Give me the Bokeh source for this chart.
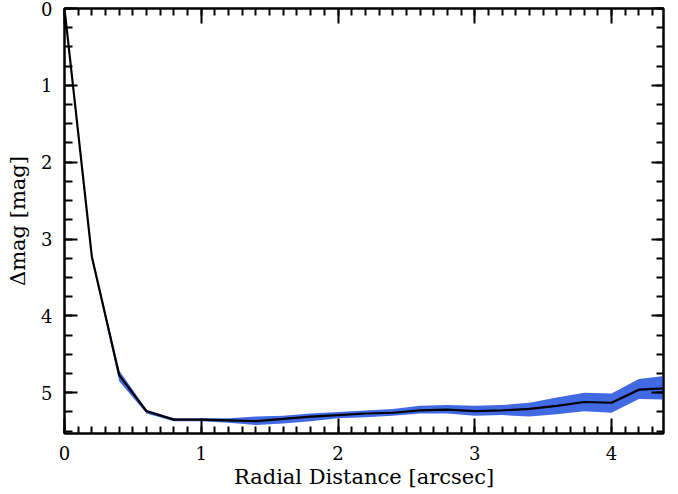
from bokeh.plotting import figure
from bokeh.models import Range1d, LinearAxis, SingleIntervalTicker, CustomJSTickFormatter
from bokeh.embed import file_html
from bokeh.resources import INLINE

# data
radius = [0.0, 0.2, 0.4, 0.6, 0.8, 1.0, 1.2, 1.4, 1.6, 1.8, 2.0, 2.2,
          2.4, 2.6, 2.8, 3.0, 3.2, 3.4, 3.6, 3.8, 4.0, 4.2, 4.4]
dmag = [0.0, 3.23, 4.77, 5.24, 5.35, 5.35, 5.36, 5.37, 5.34, 5.31, 5.29, 5.27,
        5.26, 5.23, 5.22, 5.24, 5.23, 5.21, 5.17, 5.12, 5.13, 4.96, 4.94]
dmag_upper = [0.0, 3.20, 4.71, 5.22, 5.33, 5.33, 5.33, 5.31, 5.30, 5.27, 5.25, 5.23,
              5.21, 5.17, 5.16, 5.17, 5.16, 5.13, 5.06, 5.00, 5.01, 4.82, 4.78]
dmag_lower = [0.0, 3.27, 4.85, 5.27, 5.37, 5.37, 5.39, 5.42, 5.40, 5.37, 5.33, 5.32,
              5.30, 5.27, 5.27, 5.30, 5.29, 5.31, 5.28, 5.24, 5.26, 5.08, 5.09]

FONT = "DejaVu Serif"

p = figure(width=678, height=494, frame_width=599, frame_height=425,
           x_range=Range1d(0, 4.38), y_range=Range1d(5.53, 0),
           output_backend="svg", toolbar_location=None,
           min_border_left=64, min_border_right=15, min_border_top=8,
           min_border_bottom=61, background_fill_color="white",
           border_fill_color="white")
p.grid.visible = False
p.outline_line_color = "black"
p.outline_line_width = 2

p.varea(x=radius, y1=dmag_upper, y2=dmag_lower, color="#4169E1")
p.line(radius, dmag, color="black", line_width=2.2)

xt = SingleIntervalTicker(interval=1, num_minor_ticks=10)
yt = SingleIntervalTicker(interval=1, num_minor_ticks=4)

def style(ax, labels=True):
    ax.axis_line_color = "black"
    ax.axis_line_width = 2
    ax.major_tick_in = 15
    ax.major_tick_out = 0
    ax.minor_tick_in = 7
    ax.minor_tick_out = 0
    ax.major_tick_line_width = 2
    ax.minor_tick_line_width = 2
    ax.major_tick_line_color = "black"
    ax.minor_tick_line_color = "black"
    if labels:
        ax.major_label_text_font = FONT
        ax.major_label_text_font_size = "18px"
        ax.major_label_text_color = "black"
        ax.axis_label_text_font = FONT
        ax.axis_label_text_font_size = "21px"
        ax.axis_label_text_font_style = "normal"
        ax.axis_label_text_color = "black"
    else:
        ax.formatter = CustomJSTickFormatter(code="return ''")
        ax.major_label_text_font_size = "0px"
        ax.major_label_standoff = 0
        ax.axis_label = None

xa = p.xaxis[0]
xa.ticker = xt
xa.axis_label = "Radial Distance [arcsec]"
style(xa)
xa.major_label_standoff = 12
xa.axis_label_standoff = 2

ya = p.yaxis[0]
ya.ticker = yt
ya.axis_label = "\u0394mag [mag]"
style(ya)
ya.major_label_standoff = 12
ya.axis_label_standoff = 8
ya.minor_tick_in = 8
ya.major_tick_in = 13

top = LinearAxis(ticker=SingleIntervalTicker(interval=1, num_minor_ticks=10))
style(top, labels=False)
p.add_layout(top, "above")

right = LinearAxis(ticker=SingleIntervalTicker(interval=1, num_minor_ticks=4))
style(right, labels=False)
right.major_tick_in = 12
right.minor_tick_in = 7
p.add_layout(right, "right")

open("out.html", "w").write(file_html(p, INLINE))
